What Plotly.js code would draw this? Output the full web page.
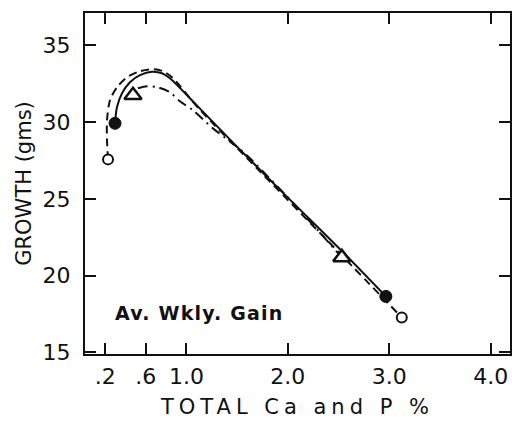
<!DOCTYPE html>
<html>
<head>
<meta charset="utf-8">
<script src="https://cdn.plot.ly/plotly-3.0.1.min.js"></script>
<style>
  html, body { margin: 0; padding: 0; background: #fff; }
  #chart { width: 512px; height: 422px; }
  .xtitle { letter-spacing: 5px; }
  .annotation-text { letter-spacing: 1.2px; }
</style>
</head>
<body>
<div id="chart"></div>
<script>
// Solid curve (filled circles)
const solidX = [0.296, 0.315, 0.365, 0.443, 0.542, 0.660, 0.759, 0.837, 1.100, 1.498, 2.020, 2.540, 2.966];
const solidY = [29.92, 30.96, 31.87, 32.59, 33.05, 33.28, 33.18, 32.85, 31.10, 28.40, 24.95, 21.55, 18.65];
// Dashed curve (open circles)
const dashX = [0.227, 0.217, 0.217, 0.246, 0.315, 0.414, 0.542, 0.670, 0.768, 0.857, 1.133, 1.724, 2.512, 3.123];
const dashY = [27.57, 28.81, 30.11, 31.42, 32.26, 32.92, 33.31, 33.44, 33.31, 32.92, 30.80, 26.80, 21.45, 17.28];
// Dash-dot curve (triangles)
const dotX = [0.522, 0.611, 0.719, 0.837, 0.936, 1.064, 1.261, 1.478, 1.626, 2.118, 2.532];
const dotY = [32.20, 32.33, 32.26, 31.94, 31.35, 30.77, 29.59, 28.49, 27.64, 24.25, 21.19];
// Plotted points
const filledX = [0.296, 2.966];
const filledY = [29.92, 18.65];
const openX = [0.227, 3.123];
const openY = [27.57, 17.28];
const triX = [0.473, 2.532];
const triY = [31.74, 21.19];
// Axis ticks
const xTickVals = [0.2, 0.6, 1.0, 2.0, 3.0, 4.0];
const xTickText = ['.2', '.6', '1.0', '2.0', '3.0', '4.0'];
const yTickVals = [15, 20, 25, 30, 35];
const yTickText = ['15', '20', '25', '30', '35'];

const black = '#111';
const traces = [
  { x: dashX, y: dashY, mode: 'lines', line: { shape: 'spline', smoothing: 0.8, color: black, width: 2, dash: '8px,5px' }, hoverinfo: 'skip' },
  { x: dotX, y: dotY, mode: 'lines', line: { shape: 'spline', smoothing: 0.8, color: black, width: 2, dash: '10px,5px,2px,5px' }, hoverinfo: 'skip' },
  { x: solidX, y: solidY, mode: 'lines', line: { shape: 'spline', smoothing: 0.8, color: black, width: 2 }, hoverinfo: 'skip' },
  { x: openX, y: openY, mode: 'markers', marker: { symbol: 'circle', size: 10, color: '#fff', line: { color: black, width: 2 } } },
  { x: filledX, y: filledY, mode: 'markers', marker: { symbol: 'circle', size: 12, color: black, line: { color: black, width: 1 } } },
  { x: triX, y: triY, mode: 'markers', marker: { symbol: 'triangle-up', size: 15, color: '#fff', line: { color: black, width: 2.5 } } }
];

const fontFam = 'DejaVu Sans, sans-serif';
const layout = {
  width: 512, height: 422,
  margin: { l: 85, r: 2, t: 13, b: 68 },
  paper_bgcolor: '#fff', plot_bgcolor: '#fff',
  showlegend: false,
  font: { family: fontFam, color: black },
  xaxis: {
    range: [0, 4.19],
    tickmode: 'array', tickvals: xTickVals, ticktext: xTickText,
    ticks: 'inside', ticklen: 11, tickwidth: 2, tickcolor: black,
    showline: true, linewidth: 2, linecolor: black, mirror: 'ticks',
    showgrid: false, zeroline: false,
    ticklabelstandoff: 2,
    tickfont: { size: 22, family: fontFam, color: black },
    title: { text: 'TOTAL Ca and P %', font: { size: 21, family: fontFam, color: black }, standoff: 11 }
  },
  yaxis: {
    range: [14.9, 37.1],
    tickmode: 'array', tickvals: yTickVals, ticktext: yTickText,
    ticks: 'inside', ticklen: 11, tickwidth: 2, tickcolor: black,
    showline: true, linewidth: 2, linecolor: black, mirror: 'ticks',
    showgrid: false, zeroline: false,
    ticklabelstandoff: 8,
    tickfont: { size: 22, family: fontFam, color: black },
    title: { text: 'GROWTH (gms)', font: { size: 21, family: fontFam, color: black }, standoff: 5 }
  },
  annotations: [
    { xref: 'x', yref: 'y', x: 0.276, y: 17.57, xanchor: 'left', yanchor: 'middle', showarrow: false,
      text: 'Av. Wkly. Gain', font: { size: 19, family: fontFam, color: black, weight: 'bold' } }
  ]
};

Plotly.newPlot('chart', traces, layout, { staticPlot: true, displayModeBar: false });
</script>
</body>
</html>
